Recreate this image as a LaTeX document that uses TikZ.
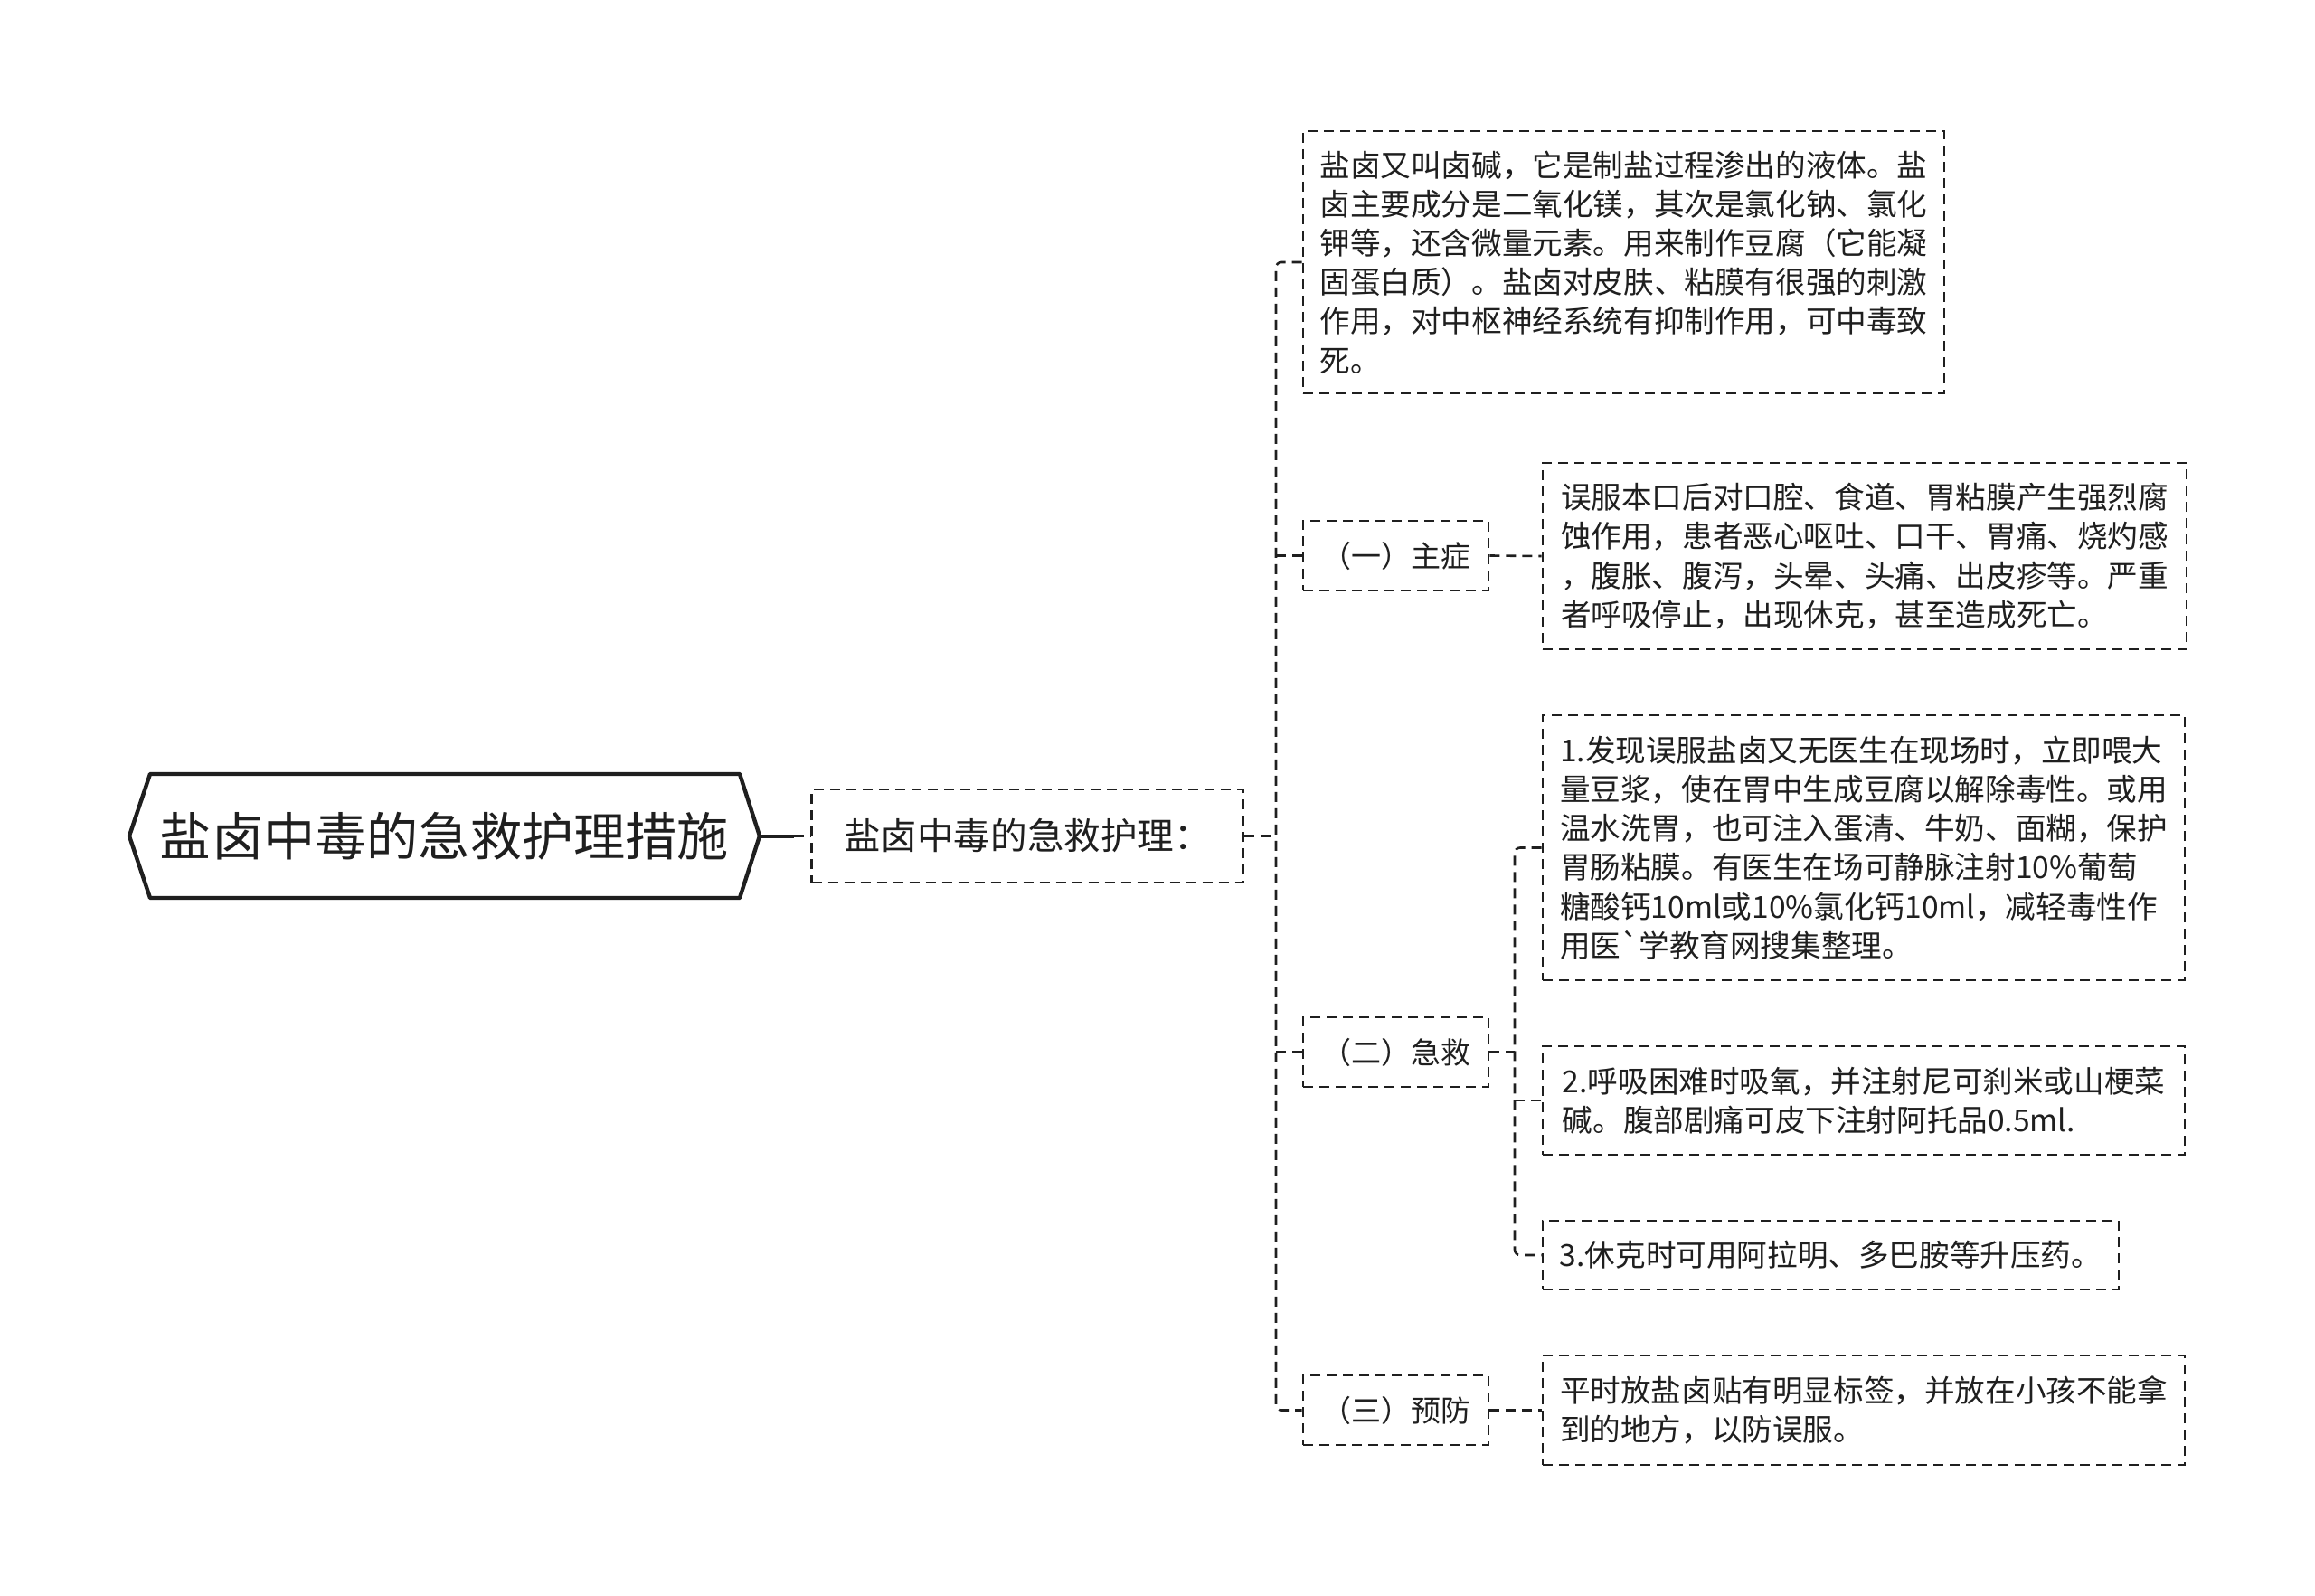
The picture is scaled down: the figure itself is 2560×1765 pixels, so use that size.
\documentclass[tikz,border=0pt]{standalone}
\usepackage{fontspec}
\setmainfont{Noto Sans CJK SC}
\newfontfamily\rawcjk{Noto Sans CJK SC}
\begin{document}
\begin{tikzpicture}[x=0.5pt,y=-0.5pt,
  ink/.style={draw=black!88},
  dsh/.style={ink, line width=1.3pt, dash pattern=on 5.5pt off 3.5pt},
  leaf/.style={dsh, align=left, inner xsep=8pt, inner ysep=4pt, text=black!88,
    font=\fontsize{16.8pt}{21.6pt}\selectfont},
  branch/.style={dsh, inner sep=2pt, text=black!88, minimum width=102.5pt, minimum height=38.5pt,
    font=\fontsize{16.5pt}{20pt}\selectfont},
  conn/.style={dsh}
]
\fill[white] (0,0) rectangle (2560,1765);
\useasboundingbox (0,0) rectangle (2560,1765);

% root hexagon
\draw[ink, line width=2.2pt, line join=round] (143,924.5) -- (166,856) -- (818,856) -- (840,924.5) -- (818,993) -- (166,993) -- cycle;
\node[text=black!88, font=\fontsize{28.6pt}{34pt}\selectfont, minimum width=348pt, minimum height=68pt, inner sep=0pt] (root) at (491.5,924.5) {盐卤中毒的急救护理措施};
\coordinate (rootpt) at (840,924.5);
\coordinate (rootmid) at (878,924.5);

% level 1
\node[dsh, text=black!88, font=\fontsize{20.3pt}{24pt}\selectfont, minimum width=238.5pt, minimum height=51.5pt, inner sep=2pt] (main) at (1136,924.5) {盐卤中毒的急救护理：};

% leaf directly under main
\node[leaf, minimum width=354.5pt, minimum height=145pt] (desc) at (1795.5,290) {盐卤又叫卤碱，它是制盐过程渗出的液体。盐\\卤主要成分是二氧化镁，其次是氯化钠、氯化\\钾等，还含微量元素。用来制作豆腐（它能凝\\固蛋白质）。盐卤对皮肤、粘膜有很强的刺激\\作用，对中枢神经系统有抑制作用，可中毒致\\死。};

% branches
\node[branch] (zz) at (1543.5,614.5) {（一）主症};
\node[branch] (jj) at (1543.5,1163.5) {（二）急救};
\node[branch] (yf) at (1543.5,1559.5) {（三）预防};

% leaves
\node[leaf, minimum width=356pt, minimum height=103pt] (zzl) at (2062,615) {误服本口后对口腔、食道、胃粘膜产生强烈腐\\蚀作用，患者恶心呕吐、口干、胃痛、烧灼感\\，腹胀、腹泻，头晕、头痛、出皮疹等。严重\\者呼吸停止，出现休克，甚至造成死亡。};

\node[leaf, minimum width=355pt, minimum height=146.5pt] (j1) at (2061,937.5) {1.发现误服盐卤又无医生在现场时，立即喂大\\量豆浆，使在胃中生成豆腐以解除毒性。或用\\温水洗胃，也可注入蛋清、牛奶、面糊，保护\\胃肠粘膜。有医生在场可静脉注射10\%葡萄\\糖酸钙10ml或10\%氯化钙10ml，减轻毒性作\\用医{\rawcjk\symbol{96}}学教育网搜集整理。};

\node[leaf, minimum width=355pt, minimum height=60pt] (j2) at (2061,1217) {2.呼吸困难时吸氧，并注射尼可刹米或山梗菜\\碱。腹部剧痛可皮下注射阿托品0.5ml.};

\node[leaf, minimum width=318.5pt, minimum height=38pt] (j3) at (2024.5,1388) {3.休克时可用阿拉明、多巴胺等升压药。};

\node[leaf, minimum width=355pt, minimum height=60.5pt] (yfl) at (2061,1559.5) {平时放盐卤贴有明显标签，并放在小孩不能拿\\到的地方，以防误服。};

% connectors
\coordinate (tx) at (1411,0);
\coordinate (sx) at (1675,0);
\draw[ink, line width=2pt] (rootpt) -- (rootmid);
\draw[conn] (rootmid) -- (main.west);
\draw[conn] (main.east) -- (main.east -| tx);
\draw[conn, rounded corners=3pt] (desc.west) -- (desc.west -| tx) -- (yf.west -| tx) -- (yf.west);
\draw[conn] (zz.west -| tx) -- (zz.west);
\draw[conn] (jj.west -| tx) -- (jj.west);
\draw[conn] (zz.east) -- (zzl.west);
\draw[conn] (yf.east) -- (yfl.west);
\draw[conn] (jj.east) -- (jj.east -| sx);
\draw[conn, rounded corners=3pt] (j1.west) -- (j1.west -| sx) -- (j3.west -| sx) -- (j3.west);
\draw[conn] (j2.west -| sx) -- (j2.west);
\end{tikzpicture}
\end{document}
